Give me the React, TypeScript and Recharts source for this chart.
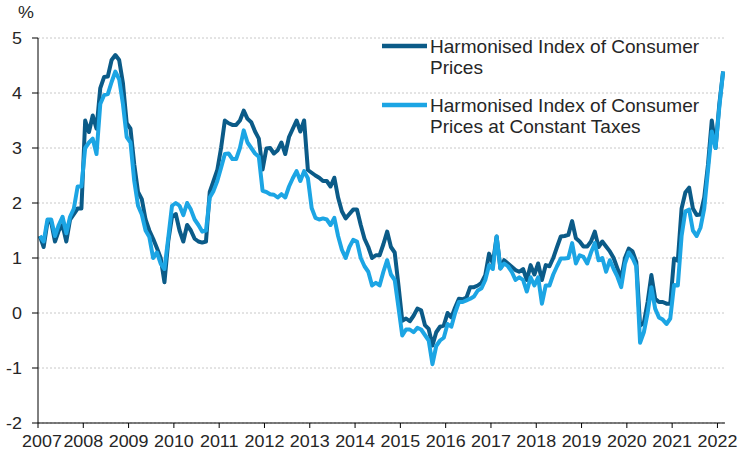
import React from 'react';
import { LineChart, Line, XAxis, YAxis, CartesianGrid } from 'recharts';

// ---- data ----
const startYear = 2007;
const yearTickLabels = [2007, 2008, 2009, 2010, 2011, 2012, 2013, 2014, 2015, 2016, 2017, 2018, 2019, 2020, 2021, 2022];
const yTicks = [-2, -1, 0, 1, 2, 3, 4, 5];
const seriesNames = [
  ['Harmonised Index of Consumer', 'Prices'],
  ['Harmonised Index of Consumer', 'Prices at Constant Taxes'],
];

// Monthly, Jan 2007 .. Feb 2022
const hicp = [
  1.4, 1.2, 1.65, 1.65, 1.3, 1.5, 1.6, 1.3, 1.7, 1.8, 1.9, 1.9,
  3.5, 3.29, 3.59, 3.35, 4.09, 4.29, 4.3, 4.6, 4.69, 4.6, 4.18, 3.45,
  3.35, 2.7, 2.2, 2.07, 1.7, 1.5, 1.35, 1.18, 1.0, 0.56, 1.3, 1.75,
  1.8, 1.5, 1.3, 1.6, 1.5, 1.35, 1.3, 1.28, 1.3, 2.2, 2.4, 2.6,
  3.0, 3.5, 3.45, 3.42, 3.42, 3.5, 3.68, 3.53, 3.47, 3.3, 3.17, 2.61,
  2.99, 3.0, 2.9, 2.96, 3.1, 2.89, 3.2, 3.35, 3.5, 3.3, 3.5, 2.6,
  2.55, 2.5, 2.46, 2.4, 2.4, 2.3, 2.46, 2.1, 1.85, 1.72, 1.8, 1.88,
  1.88, 1.6, 1.35, 1.2, 1.0, 1.05, 1.05, 1.25, 1.48, 1.2, 1.1, 0.5,
  -0.14, -0.1, -0.15, -0.05, 0.08, 0.05, -0.22, -0.29, -0.59, -0.35, -0.25, -0.23,
  0.0, -0.08, 0.1, 0.26, 0.25, 0.28, 0.47, 0.47, 0.5, 0.55, 0.69, 1.08,
  0.9, 1.39, 0.81, 0.96, 0.9, 0.84, 0.78, 0.75, 0.8, 0.6, 0.87, 0.7,
  0.9, 0.6, 0.87, 0.85, 1.0, 1.2, 1.39, 1.4, 1.42, 1.67, 1.36, 1.3,
  1.21, 1.21, 1.3, 1.48, 1.2, 1.3, 1.21, 1.12, 1.0, 0.81, 0.63, 1.0,
  1.17, 1.12, 0.93, -0.23, -0.18, 0.2, 0.69, 0.26, 0.2, 0.2, 0.17, 0.17,
  0.99, 0.95, 1.9, 2.19, 2.28, 1.9, 1.78, 1.79, 2.1, 2.7, 3.5, 3.0,
  3.8, 4.39,
];

const hicpConstantTaxes = [
  1.4, 1.3, 1.7, 1.7, 1.4, 1.6, 1.75, 1.45, 1.75, 1.9, 2.3, 2.3,
  3.0, 3.1, 3.17, 2.89, 3.8, 3.96, 3.98, 4.2, 4.39, 4.25, 3.8, 3.2,
  3.1, 2.4, 1.95, 1.79, 1.5, 1.38, 1.0, 1.1, 0.9, 0.8, 1.36, 1.95,
  2.0, 1.95, 1.78, 2.0, 1.88, 1.7, 1.6, 1.48, 1.5, 2.1, 2.22, 2.4,
  2.64, 2.89, 2.9, 2.8, 2.8, 3.0, 3.32, 3.1, 3.0, 2.9, 2.84, 2.22,
  2.2, 2.16, 2.15, 2.1, 2.16, 2.1, 2.3, 2.45, 2.58, 2.4, 2.58, 2.45,
  1.91, 1.73, 1.7, 1.72, 1.7, 1.6, 1.73, 1.4, 1.15, 1.0, 1.2, 1.33,
  1.3, 1.0, 0.85, 0.75, 0.5, 0.55, 0.5, 0.75, 0.96, 0.7, 0.6, 0.1,
  -0.41, -0.3, -0.3, -0.35, -0.27, -0.3, -0.4, -0.5, -0.93, -0.6, -0.5, -0.45,
  -0.2, -0.25, 0.0, 0.2, 0.2, 0.23, 0.26, 0.3, 0.41, 0.45, 0.6, 0.87,
  0.8, 1.39, 0.81, 0.9, 0.85, 0.75, 0.6, 0.65, 0.6, 0.39, 0.65, 0.5,
  0.65, 0.17, 0.5, 0.5, 0.7, 0.85, 0.99, 0.99, 1.0, 1.27, 0.9, 1.05,
  1.02, 0.9, 1.1, 1.27, 0.96, 1.0, 0.75, 0.96, 0.8, 0.66, 0.47, 0.9,
  1.1, 1.0, 0.85, -0.54, -0.35, 0.0, 0.47, 0.08, -0.08, -0.12, -0.2, -0.1,
  0.51, 0.5, 1.4, 1.85, 1.88, 1.5, 1.4, 1.55, 1.9, 2.6, 3.3, 3.0,
  3.75, 4.39,
];

// ---- styles ----
const DARK = '#0b5b88';
const LIGHT = '#1ca5e4';
const TEXT = '#262626';
const FONT = '"Liberation Sans", Arial, sans-serif';
const TICK_FS = 16;
const TICK_SX = 1.12;
const LEG_FS = 17.5;
const LEG_SX = 1.09;

const data = hicp.map((v, i) => ({ t: i + 0.5, hicp: v, hicpCT: hicpConstantTaxes[i] }));
const xTicks = yearTickLabels.map((y) => (y - startYear) * 12);

const XTick = (props: any) => {
  const { x, y, payload, index } = props;
  const label = startYear + Math.round(payload.value / 12);
  return (
    <text
      transform={`translate(${x + (index === 0 ? 4 : 0)},${y}) scale(${TICK_SX},1)`}
      textAnchor="middle"
      dy="0.71em"
      fontSize={TICK_FS}
      fontFamily={FONT}
      fill={TEXT}
    >
      {label}
    </text>
  );
};

const YTick = (props: any) => {
  const { x, y, payload } = props;
  return (
    <text
      transform={`translate(${x},${y}) scale(${TICK_SX},1)`}
      textAnchor="end"
      dy="0.36em"
      fontSize={TICK_FS}
      fontFamily={FONT}
      fill={TEXT}
    >
      {payload.value}
    </text>
  );
};

export default function App() {
  const colors = [DARK, LIGHT];
  const legendTops = [52.5, 111.5];
  return (
    <div style={{ position: 'absolute', left: 0, top: 0, width: 745, height: 455, background: '#fff' }}>
      <LineChart width={745} height={455} data={data} margin={{ top: 38, right: 20, left: 0, bottom: 2 }}>
        <CartesianGrid horizontal vertical={false} stroke="#c8c8c8" strokeDasharray="2 2" />
        <XAxis
          dataKey="t"
          type="number"
          domain={[0, 182]}
          ticks={xTicks}
          interval={0}
          tick={<XTick />}
          tickSize={5}
          tickMargin={8}
          height={30}
          axisLine={{ stroke: '#000' }}
          tickLine={{ stroke: '#000' }}
        />
        <YAxis
          type="number"
          domain={[-2, 5]}
          ticks={yTicks}
          interval={0}
          tick={<YTick />}
          tickSize={6}
          tickMargin={10}
          width={38}
          axisLine={{ stroke: '#000' }}
          tickLine={{ stroke: '#000' }}
        />
        <Line
          type="linear"
          dataKey="hicp"
          stroke={DARK}
          strokeWidth={4}
          dot={false}
          isAnimationActive={false}
          strokeLinejoin="round"
        />
        <Line
          type="linear"
          dataKey="hicpCT"
          stroke={LIGHT}
          strokeWidth={4}
          dot={false}
          isAnimationActive={false}
          strokeLinejoin="round"
        />
      </LineChart>
      <svg
        width={745}
        height={455}
        style={{ position: 'absolute', left: 0, top: 0, pointerEvents: 'none' }}
      >
        <text
          transform={`translate(18,18) scale(${TICK_SX},1)`}
          fontSize={TICK_FS}
          fontFamily={FONT}
          fill={TEXT}
        >
          %
        </text>
        {seriesNames.map((lines, k) => (
          <g key={k}>
            <line
              x1={382}
              x2={427}
              y1={legendTops[k] - 6.5}
              y2={legendTops[k] - 6.5}
              stroke={colors[k]}
              strokeWidth={4.5}
            />
            {lines.map((ln, j) => (
              <text
                key={j}
                transform={`translate(430,${legendTops[k] + j * 21}) scale(${LEG_SX},1)`}
                fontSize={LEG_FS}
                fontFamily={FONT}
                fill={TEXT}
              >
                {ln}
              </text>
            ))}
          </g>
        ))}
      </svg>
    </div>
  );
}
